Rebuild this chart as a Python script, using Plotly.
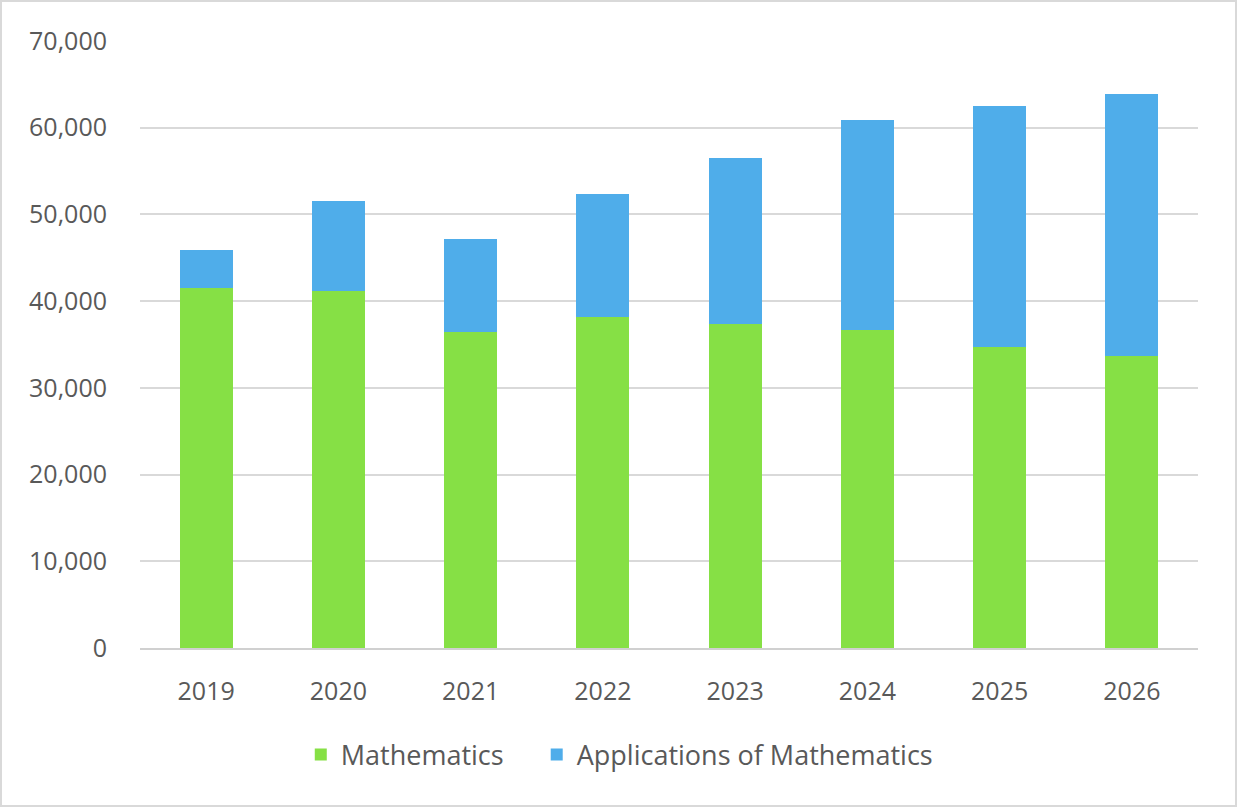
import plotly.graph_objects as go

years = ["2019", "2020", "2021", "2022", "2023", "2024", "2025", "2026"]
mathematics = [41530, 41150, 36430, 38190, 37380, 36620, 34670, 33660]
applications = [4380, 10450, 10680, 14220, 19170, 24270, 27800, 30190]

fig = go.Figure()
fig.add_trace(go.Bar(x=years, y=mathematics, name="Mathematics" + "\u00a0" * 4,
                     marker=dict(color="#86E045", line=dict(width=0))))
fig.add_trace(go.Bar(x=years, y=applications, name="Applications of Mathematics",
                     marker=dict(color="#4FADEA", line=dict(width=0))))

fig.update_layout(
    barmode="stack",
    bargap=0.6,
    width=1238, height=808,
    margin=dict(l=140, r=40, t=41, b=160),
    paper_bgcolor="white",
    plot_bgcolor="white",
    font=dict(family="Open Sans, Liberation Sans, sans-serif", size=25, color="#595959"),
    legend=dict(orientation="h", x=0.453, xanchor="center", y=-0.176, yanchor="middle",
                traceorder="normal", font=dict(size=27, color="#595959"),
                itemwidth=30),
)
fig.update_yaxes(range=[0, 70000], dtick=10000, tickformat=",d",
                 showgrid=True, gridcolor="#d9d9d9", gridwidth=2,
                 zeroline=False, showline=False, ticks="",
                 ticklabelstandoff=32)
fig.update_xaxes(showline=True, linecolor="#d0d0d0", linewidth=2,
                 showgrid=False, ticks="", ticklabelstandoff=20)

# outer frame around the chart area
fig.add_shape(type="rect", xref="paper", yref="paper",
              x0=-139/1058, x1=1+38/1058, y0=-158/607, y1=1+40/607,
              line=dict(color="#d9d9d9", width=2), fillcolor="rgba(0,0,0,0)",
              layer="below")

fig.write_html("out.html", config={"displayModeBar": False},
               post_script="document.body.style.margin='0';")
